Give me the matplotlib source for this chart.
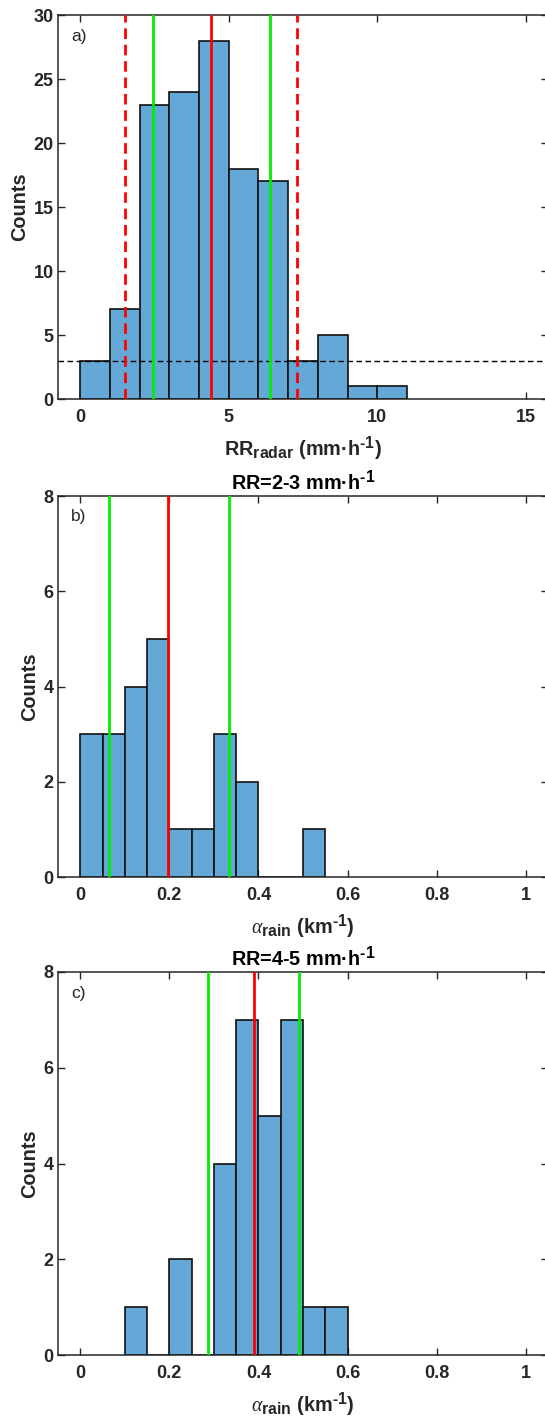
import numpy as np
import matplotlib
matplotlib.use("Agg")
import matplotlib.pyplot as plt

plt.rcParams['font.family'] = ['Liberation Sans', 'DejaVu Sans']
plt.rcParams['mathtext.fontset'] = 'custom'
plt.rcParams['mathtext.rm'] = 'Liberation Sans'
plt.rcParams['mathtext.bf'] = 'Liberation Sans:bold'
plt.rcParams['mathtext.it'] = 'Liberation Serif:italic'

# Slightly larger sub/superscripts than the mathtext default
try:
    import matplotlib._mathtext as _mt
    _mt.SHRINK_FACTOR = 0.8
except Exception:
    pass

# Panel a: radar rain rate histogram
rr_edges = np.arange(0, 12, 1.0)
rr_counts = [3, 7, 23, 24, 28, 18, 17, 3, 5, 1, 1]
rr_median = 4.4
rr_p5_p95 = [1.5, 7.3]
rr_p25_p75 = [2.45, 6.38]
rr_min_count = 3

# Panel b: attenuation coefficient for RR = 2-3 mm/h
ab_edges = np.round(np.arange(0, 0.60, 0.05), 2)
ab_counts = [3, 3, 4, 5, 1, 1, 3, 2, 0, 0, 1]
ab_median = 0.198
ab_quart = [0.064, 0.334]

# Panel c: attenuation coefficient for RR = 4-5 mm/h
ac_edges = np.round(np.arange(0.10, 0.65, 0.05), 2)
ac_counts = [1, 0, 2, 0, 4, 7, 5, 7, 1, 1]
ac_median = 0.390
ac_quart = [0.287, 0.492]

bar_face = '#64A8D7'
ink = '#262626'
TICK_FS = 13
LABEL_FS = 14.3
LETTER_FS = 12.5
HY = '\u2010'  # short hyphen for the unit exponents

W, H = 545, 1421
fig = plt.figure(figsize=(W / 100, H / 100), dpi=100)


def make_axes(top, bottom, left=58, right=548):
    return fig.add_axes([left / W, 1 - bottom / H, (right - left) / W, (bottom - top) / H])


def style(ax):
    for s in ax.spines.values():
        s.set_color(ink)
        s.set_linewidth(1.1)
    ax.tick_params(direction='in', top=True, right=True, length=5, width=1.0,
                   color=ink, labelsize=TICK_FS)
    ax.tick_params(axis='x', pad=7)
    ax.tick_params(axis='y', pad=3)
    for lab in ax.get_xticklabels() + ax.get_yticklabels():
        lab.set_fontweight('bold')
        lab.set_color(ink)


def draw_hist(ax, edges, counts):
    widths = np.diff(edges)
    ax.bar(edges[:-1], counts, width=widths, align='edge', color=bar_face,
           edgecolor='#111111', linewidth=1.2, zorder=2)


def finish(ax, xlabel, letter, title=None):
    style(ax)
    ax.set_ylabel('Counts', fontsize=LABEL_FS, fontweight='bold', color=ink, labelpad=3)
    ax.set_xlabel(xlabel, fontsize=LABEL_FS, fontweight='bold', color=ink, labelpad=6)
    if title:
        ax.set_title(title, fontsize=LABEL_FS, fontweight='bold', pad=5, color='black')
    ax.text(0.027, 0.945, letter, transform=ax.transAxes, fontsize=LETTER_FS,
            va='center', ha='left', color=ink)


alpha_label = r'$\alpha_{\mathbf{rain}}$ (km$^{\mathbf{' + HY + r'1}}$)'
unit = r'mm·h$^{\mathbf{' + HY + r'1}}$'
alpha_ticks = [0, 0.2, 0.4, 0.6, 0.8, 1]
alpha_ticklabels = ['0', '0.2', '0.4', '0.6', '0.8', '1']

# ---- a) ----
ax = make_axes(15, 399)
draw_hist(ax, rr_edges, rr_counts)
ax.axhline(rr_min_count, color='black', linestyle=(0, (4, 2.5)), linewidth=1.0, zorder=3)
for v in rr_p5_p95:
    ax.axvline(v, color='#FF0000', linestyle=(0, (3.8, 2.1)), linewidth=2.0, zorder=3)
for v in rr_p25_p75:
    ax.axvline(v, color='#00EE00', linewidth=2.0, zorder=3)
ax.axvline(rr_median, color='#FF0000', linewidth=2.0, zorder=3)
ax.set_xlim(-0.75, 15.75)
ax.set_ylim(0, 30)
ax.set_xticks([0, 5, 10, 15])
ax.set_yticks([0, 5, 10, 15, 20, 25, 30])
finish(ax, r'RR$_{\mathbf{radar}}$ (' + unit + ')', 'a)')

# ---- b) ----
ax = make_axes(496, 877)
draw_hist(ax, ab_edges, ab_counts)
for v in ab_quart:
    ax.axvline(v, color='#00EE00', linewidth=2.0, zorder=3)
ax.axvline(ab_median, color='#FF0000', linewidth=2.0, zorder=3)
ax.set_xlim(-0.05, 1.05)
ax.set_ylim(0, 8)
ax.set_xticks(alpha_ticks)
ax.set_xticklabels(alpha_ticklabels)
ax.set_yticks([0, 2, 4, 6, 8])
finish(ax, alpha_label, 'b)', 'RR=2-3 ' + unit)

# ---- c) ----
ax = make_axes(972, 1355)
draw_hist(ax, ac_edges, ac_counts)
for v in ac_quart:
    ax.axvline(v, color='#00EE00', linewidth=2.0, zorder=3)
ax.axvline(ac_median, color='#FF0000', linewidth=2.0, zorder=3)
ax.set_xlim(-0.05, 1.05)
ax.set_ylim(0, 8)
ax.set_xticks(alpha_ticks)
ax.set_xticklabels(alpha_ticklabels)
ax.set_yticks([0, 2, 4, 6, 8])
finish(ax, alpha_label, 'c)', 'RR=4-5 ' + unit)

fig.savefig('out.png', dpi=100)
